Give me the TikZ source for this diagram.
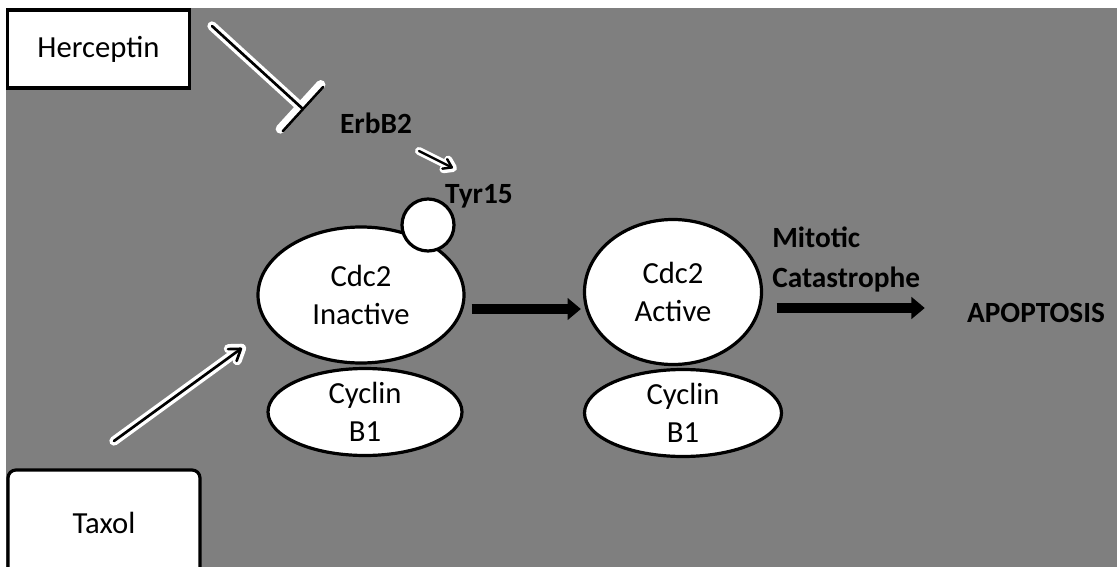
\documentclass[tikz,border=0pt]{standalone}
\usepackage{fontspec}
\setmainfont{Carlito}
\usetikzlibrary{arrows.meta,shapes.geometric}
\definecolor{bg}{HTML}{7F7F7F}
\begin{document}
\begin{tikzpicture}[x=0.75pt,y=-0.75pt,
  every node/.style={font=\fontsize{23}{28.5}\selectfont, align=center},
  whitebox/.style={draw=black, fill=white, line width=2.4pt, inner sep=0pt},
  blob/.style={ellipse, draw=black, fill=white, line width=2.4pt, inner sep=0pt},
  boldtxt/.style={font=\fontsize{22}{30}\selectfont\bfseries, inner sep=0pt},
  halo/.style={draw=white, line width=7pt, line cap=round, line join=round},
  core/.style={draw=black, line width=2pt, line cap=round, line join=round},
  fat/.style={draw=black, line width=7.5pt, -{Triangle[length=10pt,width=16pt]}},
]
\useasboundingbox (0,0) rectangle (1117,567);
\clip (0,0) rectangle (1117,567);
\fill[white] (0,0) rectangle (1117,567);
\fill[bg] (6,8) rectangle (1117,567);

% boxes
\node[whitebox, minimum width=137pt, minimum height=58.5pt] (her) at (98.5,49) {Herceptin};
\node[whitebox, rounded corners=6pt, minimum width=144pt, minimum height=78.75pt] (tax) at (104,522.5) {Taxol};

% complexes
\node[blob, minimum width=145.5pt, minimum height=65.25pt] (cyc1) at (365,412) {Cyclin\\B1};
\node[blob, minimum width=154.5pt, minimum height=102pt] (inact) at (361,295) {Cdc2\\Inactive};
\node[circle, draw=black, fill=white, line width=2.4pt, minimum size=39pt, inner sep=0pt] (phos) at (428,225) {};
\node[blob, minimum width=147.75pt, minimum height=65.25pt] (cyc2) at (683,413) {Cyclin\\B1};
\node[blob, minimum width=132.75pt, minimum height=108.75pt] (act) at (673,292) {Cdc2\\Active};

% labels
\node[boldtxt] (erb) at (376,123) {ErbB2};
\node[boldtxt] (tyr) at (479,196) {Tyr15};
\node[boldtxt, align=left, anchor=west] (mit) at (772,259) {Mitotic\\Catastrophe};
\node[boldtxt] (apo) at (1036,313) {APOPTOSIS};

% free ends
\coordinate (h1) at (212,26);
\coordinate (h2) at (304,110);
\coordinate (ta1) at (114,441);
\coordinate (ta2) at (242,348);
\coordinate (e1) at (419,151);
\coordinate (e2) at (453,168);

% Herceptin inhibition
\draw[halo, -{Bar[width=45pt, round]}] (h1) -- (h2);
\draw[core, -{Bar[width=45pt, round]}] (h1) -- (h2);

% Taxol arrow
\draw[halo, shorten >=-3pt, -{Straight Barb[length=8pt,width=11pt,round]}] (ta1) -- (ta2);
\draw[core, -{Straight Barb[length=8pt,width=11pt,round]}] (ta1) -- (ta2);

% ErbB2 -> Tyr15
\draw[halo, line width=6pt, shorten >=-3pt, -{Straight Barb[length=6pt,width=8pt,round]}] (e1) -- (e2);
\draw[core, line width=1.8pt, -{Straight Barb[length=6pt,width=8pt,round]}] (e1) -- (e2);

% thick arrows
\draw[fat] ([xshift=4.5pt,yshift=-10.5pt]inact.east) -- ([xshift=-1.5pt,yshift=-12.75pt]act.west);
\draw[fat] ([xshift=10.2pt,yshift=-12pt]act.east) -- ([xshift=-31.5pt,yshift=3.75pt]apo.west);
\end{tikzpicture}
\end{document}
